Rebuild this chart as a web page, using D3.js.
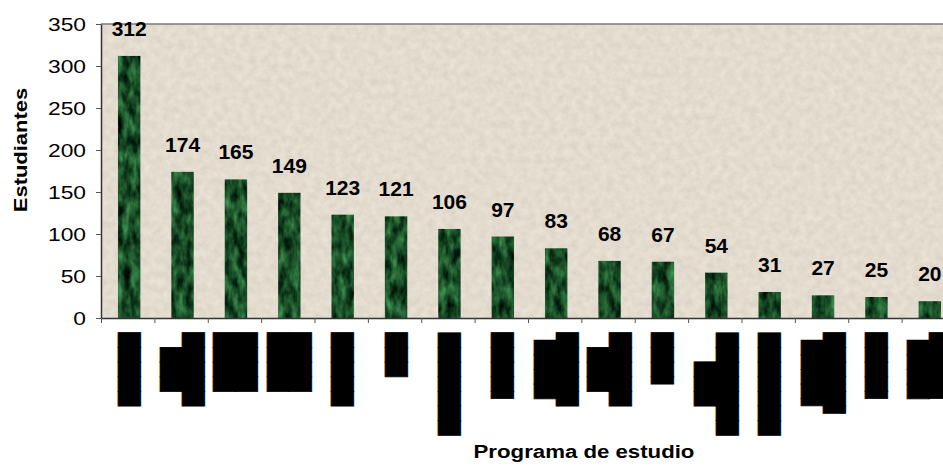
<!DOCTYPE html>
<html>
<head>
<meta charset="utf-8">
<script src="https://cdn.jsdelivr.net/npm/d3@7"></script>
<style>
  body { margin: 0; background: #fff; }
  text { font-family: "Liberation Sans", Arial, sans-serif; }
  .block-label { font-family: "DejaVu Sans"; font-size: 19px; fill: #000; stroke: #000; stroke-width: 0.8; }
</style>
</head>
<body>
<svg id="chart" width="943" height="466"></svg>
<script>
// program names are blacked out in the source picture, so each line is kept as block glyphs
var categories = [
  ["█████"],
  ["███", "█████"],
  ["████", "████"],
  ["████", "████"],
  ["█████"],
  ["███"],
  ["███████"],
  ["▐████"],
  ["████", "█████"],
  ["███", "█████"],
  ["▐███"],
  ["███", "███████"],
  ["███████"],
  ["▐████", "▐█████"],
  ["▐████"],
  ["████", "▐████"]
];
var students = [312, 174, 165, 149, 123, 121, 106, 97, 83, 68, 67, 54, 31, 27, 25, 20];
var yTicks = [0, 50, 100, 150, 200, 250, 300, 350];

var svg = d3.select('#chart');
var plotLeft = 101, plotRight = 955, plotTop = 24, plotBottom = 318;

var x = d3.scaleBand()
    .domain(d3.range(students.length))
    .range([plotLeft, plotRight]);
var xEdge = d3.scaleLinear()
    .domain([0, students.length])
    .range([plotLeft, plotRight]);
var y = d3.scaleLinear()
    .domain([0, 350])
    .range([plotBottom, plotTop]);

var barW = x.bandwidth() * 0.42;
function barCenter(i) { return x(i) + x.bandwidth() / 2 + 1.5; }

// textures for the plot background and bars (noise mapped straight to colour)
var defs = svg.append('defs');
var bgF = defs.append('filter').attr('id', 'bgTex')
    .attr('color-interpolation-filters', 'sRGB')
    .attr('x', 0).attr('y', 0).attr('width', 1).attr('height', 1);
bgF.append('feTurbulence').attr('type', 'fractalNoise')
    .attr('baseFrequency', '0.14').attr('numOctaves', 3).attr('seed', 7).attr('result', 'n');
bgF.append('feColorMatrix').attr('in', 'n').attr('type', 'matrix')
    .attr('values', '0.09 0 0 0 0.845  0.09 0 0 0 0.815  0.09 0 0 0 0.765  0 0 0 0 1').attr('result', 'c');
bgF.append('feComposite').attr('in', 'c').attr('in2', 'SourceGraphic').attr('operator', 'in');

var barF = defs.append('filter').attr('id', 'barTex')
    .attr('color-interpolation-filters', 'sRGB')
    .attr('x', 0).attr('y', 0).attr('width', 1).attr('height', 1);
barF.append('feTurbulence').attr('type', 'fractalNoise')
    .attr('baseFrequency', '0.13 0.06').attr('numOctaves', 3).attr('seed', 3).attr('result', 'n');
barF.append('feColorMatrix').attr('in', 'n').attr('type', 'matrix')
    .attr('values', '0.4 0 0 0 -0.1  0.75 0 0 0 -0.07  0.45 0 0 0 -0.07  0 0 0 0 1').attr('result', 'c');
barF.append('feComposite').attr('in', 'c').attr('in2', 'SourceGraphic').attr('operator', 'in');

//plot area
svg.append('rect')
    .attr('x', plotLeft).attr('y', plotTop)
    .attr('width', plotRight - plotLeft).attr('height', plotBottom - plotTop)
    .attr('fill', '#e2dbcf')
    .attr('filter', 'url(#bgTex)');

svg.append('line')
    .attr('x1', plotLeft).attr('x2', plotRight)
    .attr('y1', plotTop).attr('y2', plotTop)
    .attr('stroke', '#7a7a7a').attr('stroke-width', 1.5);

//create bars
svg.selectAll('rect.bar')
    .data(students)
    .enter()
    .append('rect')
    .attr('class', 'bar')
    .attr('x', function(d, i) { return barCenter(i) - barW / 2; })
    .attr('y', function(d) { return y(d); })
    .attr('width', barW)
    .attr('height', function(d) { return plotBottom - y(d); })
    .attr('fill', '#175a2c')
    .attr('filter', 'url(#barTex)');

//value labels
svg.selectAll('text.val')
    .data(students)
    .enter()
    .append('text')
    .attr('class', 'val')
    .attr('x', function(d, i) { return barCenter(i); })
    .attr('y', function(d) { return y(d) - 20; })
    .attr('text-anchor', 'middle')
    .attr('font-size', 21)
    .attr('font-weight', 'bold')
    .attr('fill', '#000')
    .text(function(d) { return d; });

//y axis
var yAxis = svg.append('g')
    .attr('transform', 'translate(' + plotLeft + ',0)')
    .call(d3.axisLeft(y).tickValues(yTicks).tickSize(5).tickSizeOuter(0));
yAxis.select('.domain').attr('stroke', '#333').attr('stroke-width', 1.5);
yAxis.selectAll('.tick line').attr('stroke', '#555');
yAxis.selectAll('.tick text')
    .attr('x', 0)
    .attr('transform', 'translate(-15,0) scale(1.2,1)')
    .attr('font-size', 19)
    .attr('font-family', '"Liberation Sans", Arial, sans-serif')
    .attr('fill', '#000');

//x axis, ticks between the categories
var xAxis = svg.append('g')
    .attr('transform', 'translate(0,' + plotBottom + ')')
    .call(d3.axisBottom(xEdge).tickValues(d3.range(students.length + 1)).tickFormat('').tickSize(5).tickSizeOuter(0));
xAxis.select('.domain').attr('stroke', '#333').attr('stroke-width', 1.5);
xAxis.selectAll('.tick line').attr('stroke', '#555');

//category labels, rotated and blacked out
categories.forEach(function(lines, i) {
  var g = svg.append('g')
      .attr('transform', 'translate(' + barCenter(i) + ',333) rotate(-90)');
  var inner = g.append('g');
  var texts = inner.selectAll('text')
      .data(lines)
      .enter()
      .append('text')
      .attr('class', 'block-label')
      .attr('text-anchor', 'middle')
      .attr('y', function(d, j) { return j * 22; })
      .text(function(d) { return d; });
  var maxLen = d3.max(texts.nodes(), function(n) { return n.getComputedTextLength(); });
  texts.attr('x', -maxLen / 2);
  var bb = inner.node().getBBox();
  inner.attr('transform', 'translate(0,' + (-(bb.y + bb.height / 2)) + ')');
});

//axis titles
svg.append('text')
    .attr('transform', 'translate(584,458) scale(1.17,1)')
    .attr('text-anchor', 'middle')
    .attr('font-size', 19)
    .attr('font-weight', 'bold')
    .text('Programa de estudio');

svg.append('text')
    .attr('transform', 'translate(27,150) rotate(-90) scale(1.22,1)')
    .attr('text-anchor', 'middle')
    .attr('font-size', 18)
    .attr('font-weight', 'bold')
    .text('Estudiantes');
</script>
</body>
</html>
